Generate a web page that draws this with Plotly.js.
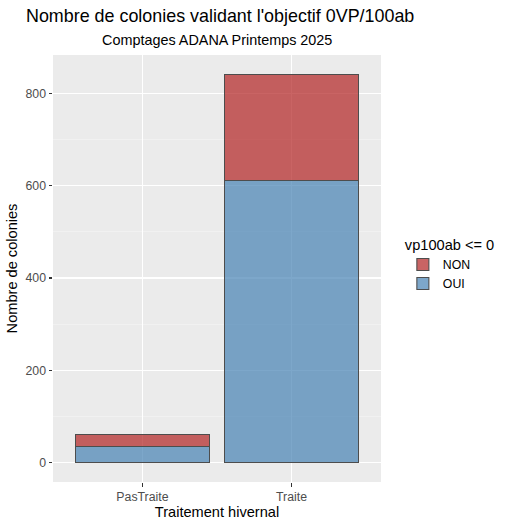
<!DOCTYPE html>
<html>
<head>
<meta charset="utf-8">
<script src="https://cdn.plot.ly/plotly-3.0.1.min.js"></script>
<style>html,body{margin:0;padding:0;background:#fff;}#chart{width:509px;height:526px;}</style>
</head>
<body>
<div id="chart"></div>
<script>
const categories = ["PasTraite", "Traite"];
const seriesNames = ["OUI", "NON"];
const valuesOUI = [35, 611];
const valuesNON = [25, 230];
const yTicks = [0, 200, 400, 600, 800];

const font = "Liberation Sans, Arial, sans-serif";
const traces = [
  {type: "bar", name: seriesNames[0], x: categories, y: valuesOUI,
   marker: {color: "rgba(70,130,180,0.7)", line: {color: "#4D4D4D", width: 1.1}}, width: 0.9},
  {type: "bar", name: seriesNames[1], x: categories, y: valuesNON,
   marker: {color: "rgba(178,34,34,0.7)", line: {color: "#4D4D4D", width: 1.1}}, width: 0.9}
];
const total = Math.max(...categories.map((c, i) => valuesOUI[i] + valuesNON[i]));
const pad = total * 0.05;

const layout = {
  width: 509, height: 526,
  margin: {l: 53, r: 126, t: 55, b: 44},
  paper_bgcolor: "#FFFFFF", plot_bgcolor: "#EBEBEB",
  barmode: "stack", bargap: 0.1,
  font: {family: font, color: "#000"},
  title: {text: "Nombre de colonies validant l'objectif 0VP/100ab", font: {size: 17.9, color: "#000", family: font},
          xref: "container", x: 26/509, xanchor: "left", yref: "container", y: 1 - 16/526, yanchor: "middle"},
  annotations: [{text: "Comptages ADANA Printemps 2025", xref: "paper", yref: "paper", x: 0.5, y: 1 + 15.5/427,
                 xanchor: "center", yanchor: "middle", showarrow: false, font: {size: 14.4, color: "#000", family: font}}],
  xaxis: {type: "category", range: [-0.6, 1.6], showgrid: true, gridcolor: "#FFFFFF", gridwidth: 1.1,
          ticks: "outside", ticklen: 3.5, tickcolor: "#333333", tickwidth: 1.1,
          tickfont: {size: 12.3, color: "#4D4D4D", family: font}, zeroline: false, showline: false,
          title: {text: "Traitement hivernal", font: {size: 14.6, color: "#000", family: font}, standoff: 3}},
  yaxis: {range: [-pad, total + pad], tickvals: yTicks, ticktext: yTicks.map(String),
          showgrid: true, gridcolor: "#FFFFFF", gridwidth: 1.1,
          minor: {tickvals: [100, 300, 500, 700], showgrid: true, gridcolor: "#F5F5F5", gridwidth: 0.6, ticks: ""},
          ticks: "outside", ticklen: 3.5, tickcolor: "#333333", tickwidth: 1.1,
          tickfont: {size: 12.3, color: "#4D4D4D", family: font}, zeroline: false, showline: false,
          title: {text: "Nombre de colonies", font: {size: 14.6, color: "#000", family: font}, standoff: 4}},
  showlegend: true,
  legend: {x: (405-53)/330, xanchor: "left", y: (482-231)/427, yanchor: "top",
           title: {text: "vp100ab <= 0", font: {size: 14.6, color: "#000", family: font}},
           font: {size: 12.3, color: "#000", family: font}, traceorder: "reversed", bgcolor: "rgba(0,0,0,0)"}
};
Plotly.newPlot("chart", traces, layout, {displayModeBar: false, staticPlot: true});
</script>
</body>
</html>
